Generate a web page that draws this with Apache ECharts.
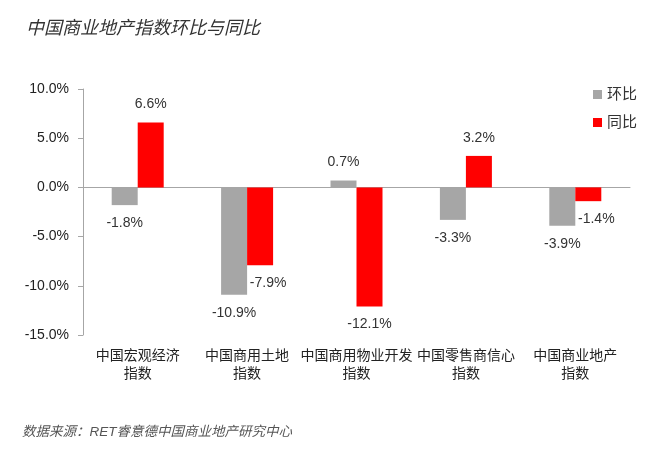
<!DOCTYPE html>
<html>
<head>
<meta charset="utf-8">
<script src="https://cdn.jsdelivr.net/npm/echarts@6/dist/echarts.min.js"></script>
<style>
  html, body { margin: 0; padding: 0; background: #fff; }
  #chart { width: 650px; height: 458px; }
</style>
</head>
<body>
<div id="chart"></div>
<script>
// 数据
var categories = ['中国宏观经济\n指数', '中国商用土地\n指数', '中国商用物业开发\n指数', '中国零售商信心\n指数', '中国商业地产\n指数'];
var huanbi = [-1.8, -10.9, 0.7, -3.3, -3.9];   // 环比
var tongbi = [6.6, -7.9, -12.1, 3.2, -1.4];    // 同比
var yTicks = { min: -15, max: 10, interval: 5 };

var FONT = '"Liberation Sans", "Noto Sans CJK SC", sans-serif';

function pct(v) { return v.toFixed(1) + '%'; }

// 负值标签放在柱子下方, 个别标签右移避免重叠
function makeData(values, shifted) {
    return values.map(function (v, i) {
        var item = {
            value: v,
            label: { position: v >= 0 ? 'top' : 'bottom' }
        };
        if (shifted.indexOf(i) >= 0) {
            item.label.offset = [8, 0];
        }
        return item;
    });
}

var chart = echarts.init(document.getElementById('chart'));
var option = {
    backgroundColor: '#fff',
    textStyle: { fontFamily: FONT },
    title: [
        {
            text: '中国商业地产指数环比与同比',
            left: 21,
            top: 15,
            textStyle: {
                fontSize: 18,
                fontStyle: 'italic',
                fontWeight: 'normal',
                color: '#333',
                fontFamily: FONT
            }
        },
        {
            text: '数据来源：RET睿意德中国商业地产研究中心 ',
            left: 17,
            top: 420,
            textStyle: {
                fontSize: 13.5,
                fontStyle: 'italic',
                fontWeight: 'normal',
                color: '#555',
                fontFamily: FONT
            }
        }
    ],
    legend: {
        orient: 'vertical',
        left: 588,
        top: 82,
        itemWidth: 9,
        itemHeight: 9,
        itemGap: 13,
        icon: 'rect',
        textStyle: { fontSize: 15, color: '#333', fontFamily: FONT },
        data: ['环比', '同比']
    },
    grid: { left: 83, right: 20, top: 89, bottom: 123 },
    xAxis: [
        {
            type: 'category',
            data: categories,
            axisLine: { onZero: true, lineStyle: { color: '#A6A6A6' } },
            axisTick: { inside: true, length: 5, lineStyle: { color: '#A6A6A6' } },
            axisLabel: { show: false }
        },
        {
            type: 'category',
            data: categories,
            position: 'bottom',
            axisLine: { show: false },
            axisTick: { show: false },
            axisLabel: {
                interval: 0,
                margin: 12,
                fontSize: 14,
                lineHeight: 18,
                color: '#222',
                fontFamily: FONT
            }
        }
    ],
    yAxis: {
        type: 'value',
        min: yTicks.min,
        max: yTicks.max,
        interval: yTicks.interval,
        axisLine: { show: true, lineStyle: { color: '#A6A6A6' } },
        axisTick: { show: true, length: 5, lineStyle: { color: '#A6A6A6' } },
        splitLine: { show: false },
        axisLabel: {
            margin: 14,
            fontSize: 14,
            color: '#222',
            fontFamily: FONT,
            formatter: function (v) { return pct(v); }
        }
    },
    series: [
        {
            name: '环比',
            type: 'bar',
            barWidth: 26,
            barGap: '0%',
            itemStyle: { color: '#A6A6A6' },
            label: {
                show: true,
                distance: 11,
                fontSize: 14,
                color: '#333',
                fontFamily: FONT,
                formatter: function (p) { return pct(p.value); }
            },
            data: makeData(huanbi, [])
        },
        {
            name: '同比',
            type: 'bar',
            barWidth: 26,
            barGap: '0%',
            itemStyle: { color: '#FF0000' },
            label: {
                show: true,
                distance: 11,
                fontSize: 14,
                color: '#333',
                fontFamily: FONT,
                formatter: function (p) { return pct(p.value); }
            },
            data: makeData(tongbi, [1, 4])
        }
    ]
};

chart.setOption(option);
</script>
</body>
</html>
